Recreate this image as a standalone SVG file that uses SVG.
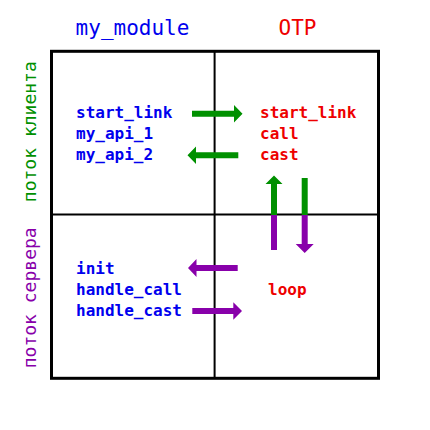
<svg xmlns="http://www.w3.org/2000/svg" width="430" height="430" viewBox="0 0 430 430">
<style>
text{font-family:"DejaVu Sans Mono","Liberation Mono",monospace}
.t{font-size:21px}
.b{font-size:16px;fill:#0000ee;font-weight:bold}
.r{font-size:16px;fill:#ee0000;font-weight:bold}
.s{font-size:18px}
.g{fill:#009000}
.p{fill:#8800aa}
.grid{fill:none;stroke:#000}
</style>
<rect width="430" height="430" fill="#fff"/>
<g id="frame">
<rect class="grid" x="51.5" y="51.3" width="327" height="327" stroke-width="3"/>
<line class="grid" x1="214.6" y1="51" x2="214.6" y2="378" stroke-width="2"/>
<line class="grid" x1="51" y1="214.4" x2="378" y2="214.4" stroke-width="2"/>
</g>
<g id="headers">
<text class="t" x="132.5" y="35" text-anchor="middle" fill="#0000ee">my_module</text>
<text class="t" x="297.5" y="35" text-anchor="middle" fill="#ee0000">OTP</text>
</g>
<g id="side-labels">
<text class="s" transform="translate(36,131.7) rotate(-90)" text-anchor="middle" fill="#009000">поток клиента</text>
<text class="s" transform="translate(36,297.8) rotate(-90)" text-anchor="middle" fill="#8800aa">поток сервера</text>
</g>
<g id="my_module-client">
<text class="b" x="76" y="117.5">start_link</text>
<text class="b" x="76" y="138.5">my_api_1</text>
<text class="b" x="76" y="159.5">my_api_2</text>
</g>
<g id="otp-client">
<text class="r" x="260" y="117.5">start_link</text>
<text class="r" x="260" y="138.5">call</text>
<text class="r" x="260" y="159.5">cast</text>
</g>
<g id="my_module-server">
<text class="b" x="76" y="273.5">init</text>
<text class="b" x="76" y="294.5">handle_call</text>
<text class="b" x="76" y="315.5">handle_cast</text>
</g>
<g id="otp-server">
<text class="r" x="268" y="294.5">loop</text>
</g>
<g id="connectors">
<path class="g" d="M192,110.7 H234 V105 L242.5,113.7 L234,122.4 V116.7 H192 Z"/>
<path class="g" d="M238.3,152.3 H196 V146.5 L187.5,155.3 L196,164.1 V158.3 H238.3 Z"/>
<path class="g" d="M271,215 V184 H265.5 L274,175.5 L282.5,184 H277 V215 Z"/>
<rect class="p" x="271" y="215" width="6" height="35"/>
<rect class="g" x="301.7" y="178" width="6" height="37"/>
<path class="p" d="M301.7,215 V244 H295.7 L304.7,253 L313.7,244 H307.7 V215 Z"/>
<path class="p" d="M237.7,265 H196.5 V259 L188,268 L196.5,277 V271 H237.7 Z"/>
<path class="p" d="M192.3,308 H233.3 V302.3 L242,311 L233.3,319.7 V314 H192.3 Z"/>
</g>
</svg>
